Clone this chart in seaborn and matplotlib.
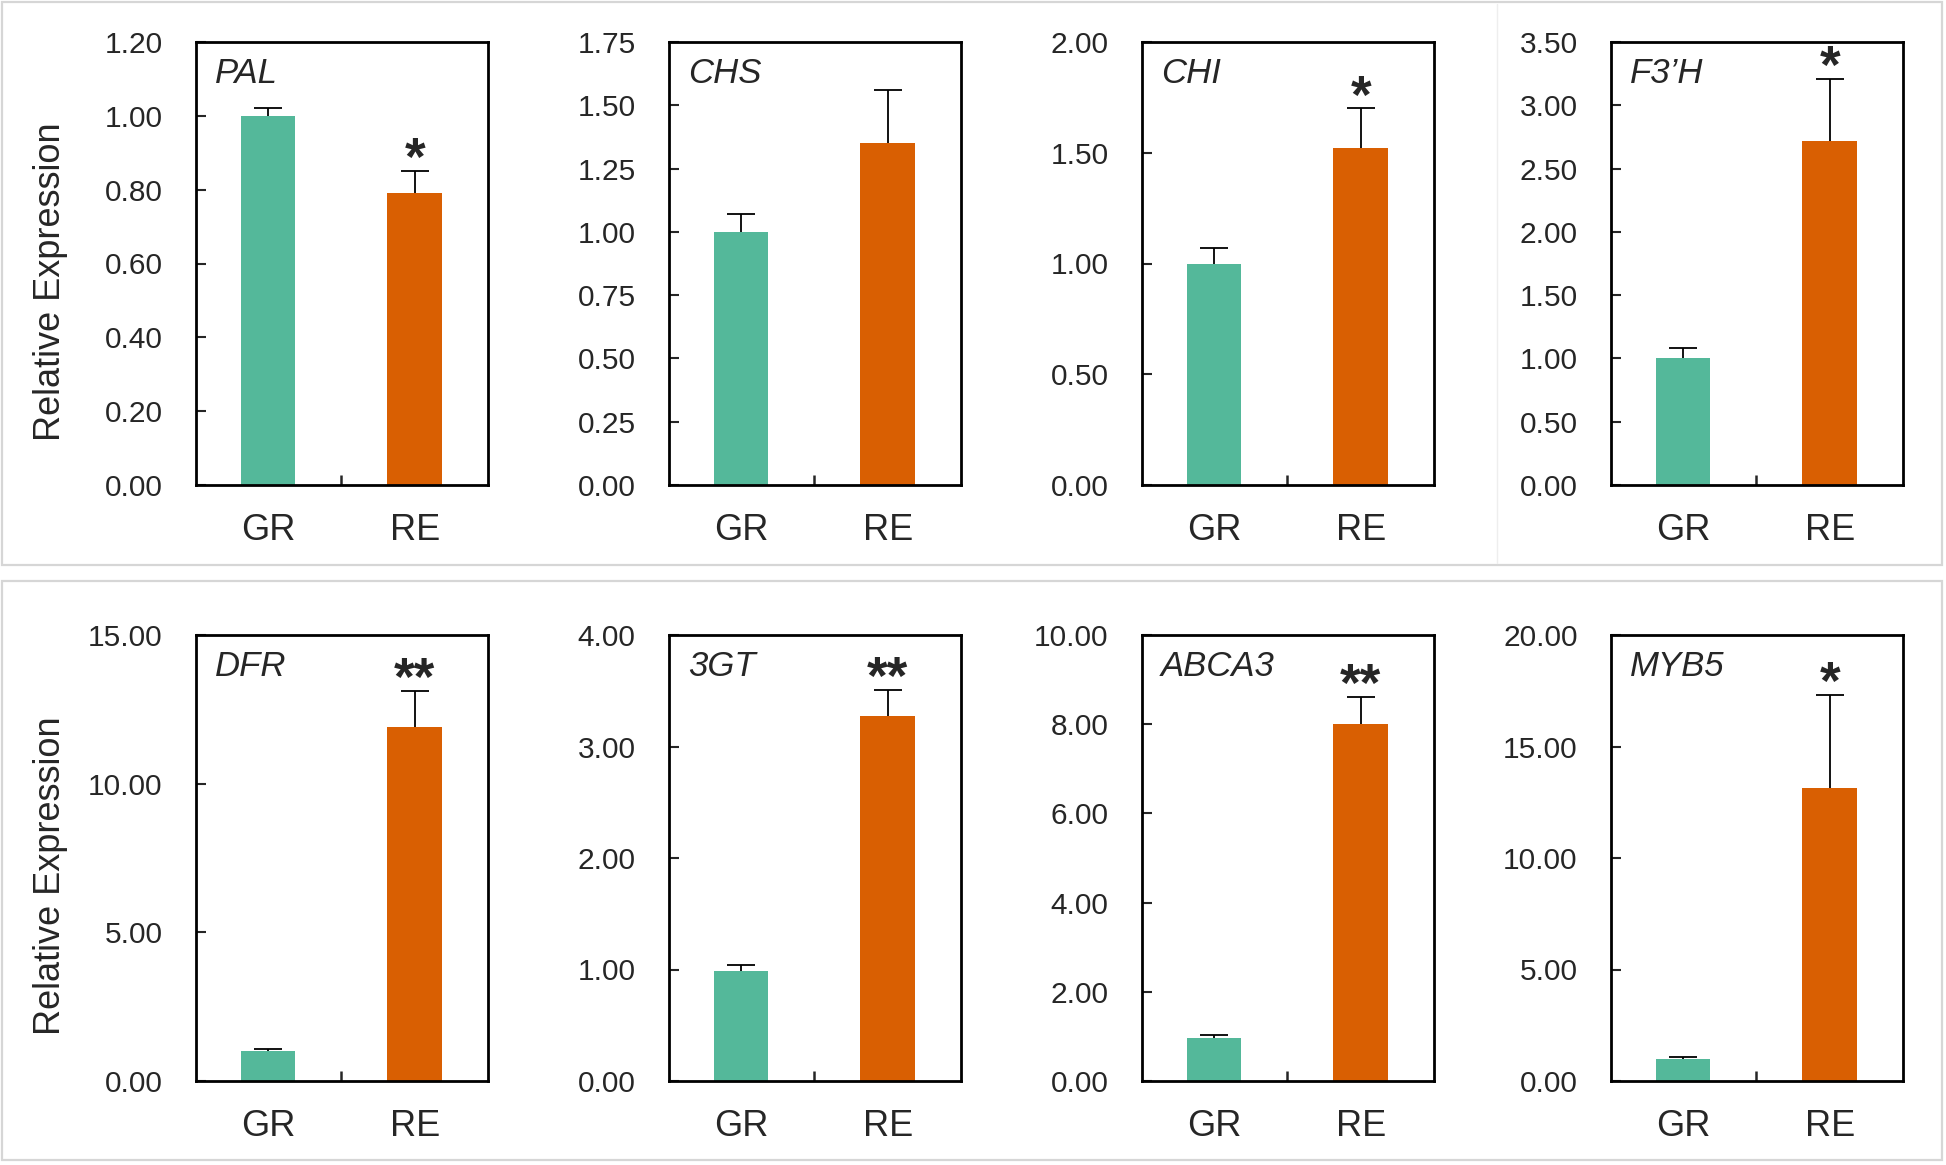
#!/usr/bin/env python3
## qRT-PCR relative expression, GR vs RE, 8 genes in 2 rows
import numpy as np
import pandas as pd
import seaborn as sns
import matplotlib
matplotlib.use('Agg')
import matplotlib.pyplot as plt
from matplotlib.patches import Rectangle
from matplotlib.lines import Line2D

genes   = ['PAL', 'CHS', 'CHI', 'F3\u2019H', 'DFR', '3GT', 'ABCA3', 'MYB5']
groups  = ['GR', 'RE']
gr_mean = [1.00, 1.00, 1.00, 1.00, 1.00, 0.99, 0.97, 0.98]
gr_err  = [0.02, 0.07, 0.07, 0.08, 0.09, 0.05, 0.07, 0.08]
re_mean = [0.79, 1.35, 1.52, 2.72, 11.90, 3.27, 8.00, 13.13]
re_err  = [0.06, 0.21, 0.18, 0.49, 1.22, 0.24, 0.61, 4.17]
signif  = ['*', '', '*', '*', '**', '**', '**', '*']
y_max   = [1.20, 1.75, 2.00, 3.50, 15.0, 4.00, 10.0, 20.0]
y_step  = [0.20, 0.25, 0.50, 0.50, 5.00, 1.00, 2.00, 5.00]

colors = {'GR': '#54B89A', 'RE': '#D95F02'}

sns.set_style('white')
plt.rcParams['font.family'] = ['Liberation Sans', 'DejaVu Sans']

W, H = 1946, 1165
fig = plt.figure(figsize=(W/100, H/100), dpi=100)

## axes placement in pixels (left, top, right, bottom)
col_left = [196, 669, 1142, 1611]
ax_w     = 292
rows     = [(42, 485), (635, 1081)]

for i, gene in enumerate(genes):
  r, c = divmod(i, 4)
  top, bot = rows[r]
  ax = fig.add_axes([col_left[c]/W, 1 - bot/H, ax_w/W, (bot - top)/H])

  df = pd.DataFrame({'group': groups, 'value': [gr_mean[i], re_mean[i]]})
  sns.barplot(data=df, x='group', y='value', hue='group', palette=colors,
              width=0.37, errorbar=None, legend=False, ax=ax,
              saturation=1, linewidth=0)

  ## upper error only: hide the cap sitting on the bar top
  eb = ax.errorbar([0, 1], df['value'], yerr=[[0, 0], [gr_err[i], re_err[i]]],
                   fmt='none', ecolor='black', elinewidth=1.3, capsize=10,
                   capthick=1.3, zorder=3)
  for cap in eb[1]:
    if np.allclose(cap.get_ydata(), df['value']):
      cap.set_visible(False)

  if signif[i]:
    ax.annotate(signif[i], xy=(1, re_mean[i] + re_err[i]), xytext=(0, -3),
                textcoords='offset points', ha='center', va='baseline',
                fontsize=38, fontweight='bold')

  ax.text(0.065, 0.93, gene, transform=ax.transAxes, style='italic',
          fontsize=25, ha='left', va='center')

  ax.set_xlim(-0.49, 1.5)
  ax.set_ylim(0, y_max[i])
  ax.set_yticks(np.arange(0, y_max[i] + 1e-9, y_step[i]))
  ax.yaxis.set_major_formatter(matplotlib.ticker.FormatStrFormatter('%.2f'))
  ax.set_xticks([0, 1])
  ax.set_xticklabels(groups)
  ax.set_xticks([0.5], minor=True)
  ax.tick_params(axis='x', which='major', length=0, pad=20, labelsize=26)
  ax.tick_params(axis='x', which='minor', direction='in', length=7,
                 width=1.8, bottom=True)
  ax.tick_params(axis='y', direction='in', length=7, width=1.5, left=True,
                 pad=24, labelsize=21.5)
  ax.set_xlabel('')
  ax.set_ylabel('')
  for s in ax.spines.values():
    s.set_visible(True)
    s.set_color('black')
    s.set_linewidth(2.0)

  if c == 0:
    ax.set_ylabel('Relative Expression', fontsize=26)
    ax.yaxis.set_label_coords(-0.44, 0.46)

## light grey frames around the two rows
for (x0, y0, x1, y1) in [(2, 2, 1942, 565), (2, 581, 1942, 1160)]:
  fig.add_artist(Rectangle((x0/W, 1 - y1/H), (x1 - x0)/W, (y1 - y0)/H,
                           transform=fig.transFigure, fill=False,
                           edgecolor='#d6d6d6', lw=1.6))
fig.add_artist(Line2D([1497/W, 1497/W], [1 - 563/H, 1 - 4/H],
                      transform=fig.transFigure, color='#eeeeee', lw=1))

plt.savefig('out.png', dpi=100)
